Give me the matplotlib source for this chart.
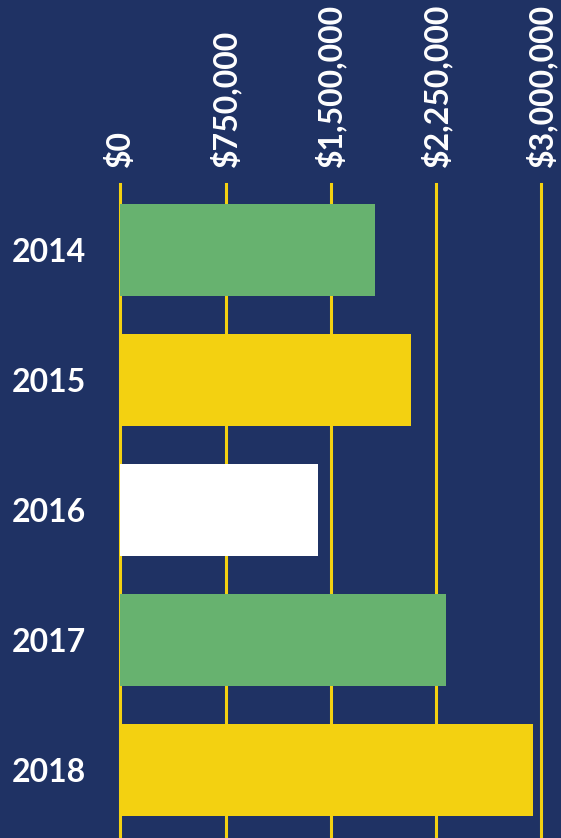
import matplotlib.pyplot as plt

years = ["2014", "2015", "2016", "2017", "2018"]
amounts = [1815000, 2070000, 1410000, 2320000, 2940000]
bar_colors = ["#67b26f", "#f3d111", "#ffffff", "#67b26f", "#f3d111"]
tick_values = [0, 750000, 1500000, 2250000, 3000000]
tick_labels = ["$0", "$750,000", "$1,500,000", "$2,250,000", "$3,000,000"]

navy = "#1f3264"
gold = "#f3d111"

W, H = 561, 838
fig = plt.figure(figsize=(W / 100, H / 100), dpi=100, facecolor=navy)

# axes spans $0 (x=120) to $3M (x=541), top of gridlines at y=184
ax = fig.add_axes([120.3 / W, 0, 421 / W, 1 - 184 / H])
ax.set_facecolor(navy)

ax.barh(range(len(years)), amounts, height=0.708, color=bar_colors, zorder=3)

ax.set_xlim(0, 3000000)
ax.set_ylim(4.523, -0.508)

ax.set_xticks(tick_values)
ax.set_xticklabels(tick_labels, rotation=90)
ax.xaxis.tick_top()
ax.set_yticks(range(len(years)))
ax.set_yticklabels(years)

ax.tick_params(axis="x", length=0, pad=12, labelsize=23, labelcolor="white")
ax.tick_params(axis="y", length=0, pad=25, labelsize=23, labelcolor="white")
for lbl in ax.get_xticklabels() + ax.get_yticklabels():
    lbl.set_fontfamily("Lato")
    lbl.set_fontweight("bold")

ax.grid(axis="x", color=gold, linewidth=2.2, zorder=1, clip_on=False)
ax.grid(axis="y", visible=False)
for s in ax.spines.values():
    s.set_visible(False)

fig.savefig("out.png", dpi=100, facecolor=navy)
